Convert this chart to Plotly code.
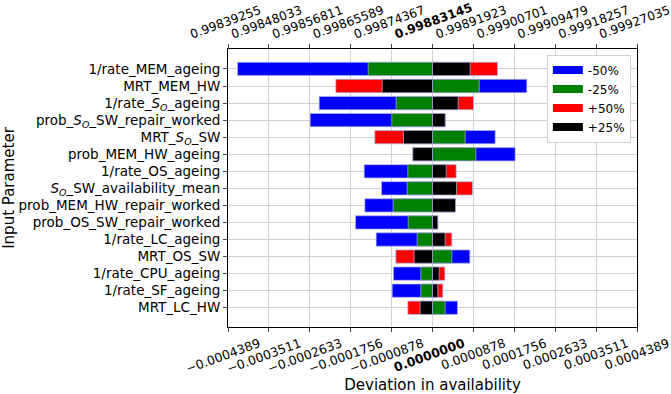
import plotly.graph_objects as go

params = [
    "1/rate_MEM_ageing", "MRT_MEM_HW", "1/rate_<i>S<sub>O</sub></i>_ageing",
    "prob_<i>S<sub>O</sub></i>_SW_repair_worked", "MRT_<i>S<sub>O</sub></i>_SW",
    "prob_MEM_HW_ageing", "1/rate_OS_ageing", "<i>S<sub>O</sub></i>_SW_availability_mean",
    "prob_MEM_HW_repair_worked", "prob_OS_SW_repair_worked", "1/rate_LC_ageing",
    "MRT_OS_SW", "1/rate_CPU_ageing", "1/rate_SF_ageing", "MRT_LC_HW",
]
minus50 = [-4.185e-4, 2.024e-4, -2.432e-4, -2.625e-4, 1.345e-4, 1.774e-4, -1.466e-4,
           -1.094e-4, -1.452e-4, -1.652e-4, -1.209e-4, 8.01e-5, -8.37e-5, -8.65e-5, 5.37e-5]
minus25 = [-1.380e-4, 1.002e-4, -7.80e-5, -8.73e-5, 7.01e-5, 9.30e-5, -5.29e-5,
           -5.44e-5, -8.44e-5, -5.22e-5, -3.29e-5, 4.15e-5, -2.50e-5, -2.50e-5, 2.72e-5]
plus50 = [1.395e-4, -2.075e-4, 8.80e-5, 2.72e-5, -1.238e-4, -4.22e-5, 5.08e-5,
          8.58e-5, 4.94e-5, 1.14e-5, 4.15e-5, -7.87e-5, 2.65e-5, 2.22e-5, -5.29e-5]
plus25 = [8.09e-5, -1.080e-4, 5.51e-5, 2.72e-5, -6.22e-5, -4.22e-5, 2.94e-5,
          5.15e-5, 4.94e-5, 1.14e-5, 2.72e-5, -3.93e-5, 1.43e-5, 1.14e-5, -2.65e-5]

baseline = 0.99883145
step = 0.00008778
tick_dev = [step * i for i in range(-5, 6)]
bottom_labels = ["\u22120.0004389", "\u22120.0003511", "\u22120.0002633", "\u22120.0001756",
                 "\u22120.0000878", "<b>0.0000000</b>", "0.0000878", "0.0001756",
                 "0.0002633", "0.0003511", "0.0004389"]
top_labels = ["0.99839255", "0.99848033", "0.99856811", "0.99865589", "0.99874367",
              "<b>0.99883145</b>", "0.99891923", "0.99900701", "0.99909479",
              "0.99918257", "0.99927035"]

series = [("-50%", minus50, "#0000ff"), ("-25%", minus25, "#008000"),
          ("+50%", plus50, "#ff0000"), ("+25%", plus25, "#000000")]

fig = go.Figure()
ypos = list(range(len(params)))
for name, vals, col in series:
    fig.add_trace(go.Bar(
        x=vals, y=ypos, orientation="h", name=name, width=0.78, showlegend=False,
        marker=dict(color=col, line=dict(color="rgba(180,180,230,0.7)", width=1)),
    ))
# legend proxies (wide rectangles)
for name, vals, col in series:
    fig.add_trace(go.Scatter(x=[None], y=[None], mode="lines", name=name,
                             line=dict(color=col, width=8)))
# invisible trace for top axis
xr = [-5 * step, 5 * step]
fig.add_trace(go.Scatter(x=xr, y=[0, 0], xaxis="x2", mode="markers",
                         marker=dict(opacity=0), showlegend=False, hoverinfo="skip"))

fig.update_layout(
    width=671, height=394,
    margin=dict(l=228, r=34, t=49, b=67, autoexpand=False),
    barmode="overlay",
    plot_bgcolor="white", paper_bgcolor="white",
    font=dict(family="DejaVu Sans", size=14, color="black"),
    xaxis=dict(range=xr, tickvals=tick_dev, ticktext=bottom_labels, tickangle=-20,
               tickfont=dict(size=12.5), ticks="outside", ticklen=4, automargin=False,
               showgrid=True, gridcolor="#d0d0d0", showline=True, linecolor="black",
               mirror=False, zeroline=False, ticklabelshift=31, ticklabeloverflow="allow",
               title=dict(text="Deviation in availability", font=dict(size=15), standoff=4)),
    xaxis2=dict(range=xr, overlaying="x", side="top",
                tickvals=tick_dev, ticktext=top_labels, tickangle=-20,
                tickfont=dict(size=12.3), ticks="outside", ticklen=4, showgrid=False,
                automargin=False, ticklabeloverflow="allow",
                showline=True, linecolor="black", zeroline=False, ticklabelshift=-38),
    yaxis=dict(range=[14 + 1.13, -1.17], tickvals=ypos, ticktext=params,
               tickfont=dict(size=13.5), ticks="outside", ticklen=4, automargin=False,
               showgrid=True, gridcolor="#d0d0d0", showline=True, linecolor="black",
               mirror=True, zeroline=False,
               title=dict(text="Input Parameter", font=dict(size=15), standoff=4)),
    legend=dict(x=0.985, y=0.98, xanchor="right", yanchor="top", bgcolor="white",
                bordercolor="#d0d0d0", borderwidth=1, font=dict(size=12),
                traceorder="normal", itemwidth=30),
    showlegend=True,
)
fig.write_html("out.html", config={"displayModeBar": False},
               post_script="document.body.style.margin='0';")
